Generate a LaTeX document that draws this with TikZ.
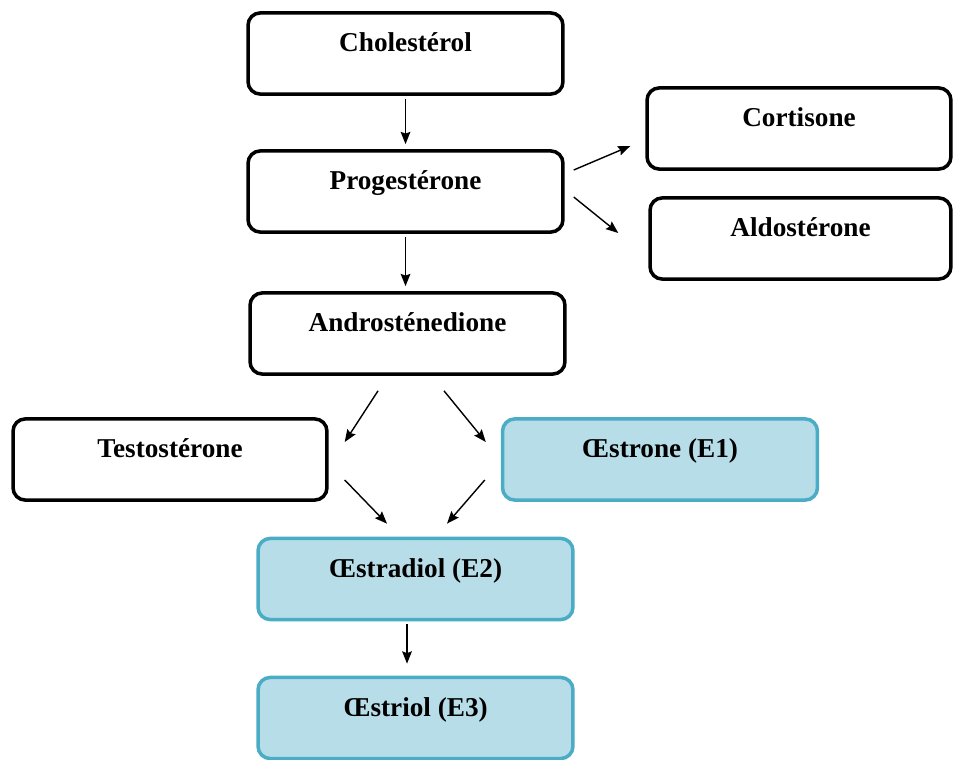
\documentclass[tikz,border=0pt]{standalone}
\usepackage{fontspec}
\setmainfont{Liberation Serif}
\usetikzlibrary{arrows.meta, positioning, calc}

\definecolor{estrofill}{HTML}{B7DEE8}
\definecolor{estroline}{HTML}{4BACC6}

\tikzset{
    stage/.style={draw, line width=2pt, rounded corners=7pt, inner xsep=0pt, inner ysep=0pt,
        text height=22pt, text depth=24.2pt, minimum width=6.3cm,
        font=\fontsize{15.5}{18}\selectfont\bfseries},
    estro/.style={stage, draw=estroline, fill=estrofill},
    flow/.style={->, >={Stealth[length=7pt, width=5.5pt, inset=1pt]}, line width=0.8pt},
}

\begin{document}
\begin{tikzpicture}[x=0.02cm, y=-0.02cm]
    \useasboundingbox (0, 0) rectangle (953, 760);

    % main chain
    \node[stage] (chol) at (405.5, 53.5) {Cholestérol};
    \node[stage] (prog) at (405.5, 191.5) {Progestérone};
    \node[stage] (andro) at (407.5, 333.5) {Androsténedione};

    % side products
    \node[stage, minimum width=6.08cm] (cort) at (799, 128.5) {Cortisone};
    \node[stage, minimum width=6.02cm] (aldo) at (800.5, 238.5) {Aldostérone};

    % androgens and estrogens
    \node[stage, minimum width=6.28cm] (testo) at (170, 459.5) {Testostérone};
    \node[estro] (e1) at (660, 459.5) {Œstrone (E1)};
    \node[estro] (e2) at (415.5, 579) {Œstradiol (E2)};
    \node[estro] (e3) at (415.5, 718) {Œstriol (E3)};

    % loose arrow ends
    \coordinate (chol_out) at ($(chol.south)+(0, 3)$);
    \coordinate (prog_in) at ($(prog.north)+(0, -5)$);
    \coordinate (prog_out) at ($(prog.south)+(0, 3)$);
    \coordinate (andro_in) at ($(andro.north)+(-2, -5)$);
    \coordinate (e2_out) at ($(e2.south)+(-8.5, 3)$);
    \coordinate (e3_in) at ($(e3.north)+(-8.5, -12)$);

    \coordinate (prog_up) at ($(prog.east)+(9, -21.5)$);
    \coordinate (cort_in) at ($(cort.west)+(-15, 17.5)$);
    \coordinate (prog_down) at ($(prog.east)+(9, 5.5)$);
    \coordinate (aldo_in) at ($(aldo.west)+(-30, -5.5)$);
    \coordinate (andro_l) at ($(andro.south)+(-29.5, 15)$);
    \coordinate (testo_in) at ($(testo.east)+(16, -17.5)$);
    \coordinate (andro_r) at ($(andro.south)+(36.5, 15)$);
    \coordinate (e1_in) at ($(e1.west)+(-15, -17.5)$);
    \coordinate (testo_out) at ($(testo.east)+(16, 20.5)$);
    \coordinate (e2_l) at ($(e2.north)+(-28.5, -13)$);
    \coordinate (e1_out) at ($(e1.west)+(-16, 20.5)$);
    \coordinate (e2_r) at ($(e2.north)+(31.5, -13)$);

    \draw[flow] (chol_out) -- (prog_in);
    \draw[flow] (prog_out) -- (andro_in);
    \draw[flow] (e2_out) -- (e3_in);

    \draw[flow] (prog_up) -- (cort_in);
    \draw[flow] (prog_down) -- (aldo_in);
    \draw[flow] (andro_l) -- (testo_in);
    \draw[flow] (andro_r) -- (e1_in);
    \draw[flow] (testo_out) -- (e2_l);
    \draw[flow] (e1_out) -- (e2_r);
\end{tikzpicture}
\end{document}
